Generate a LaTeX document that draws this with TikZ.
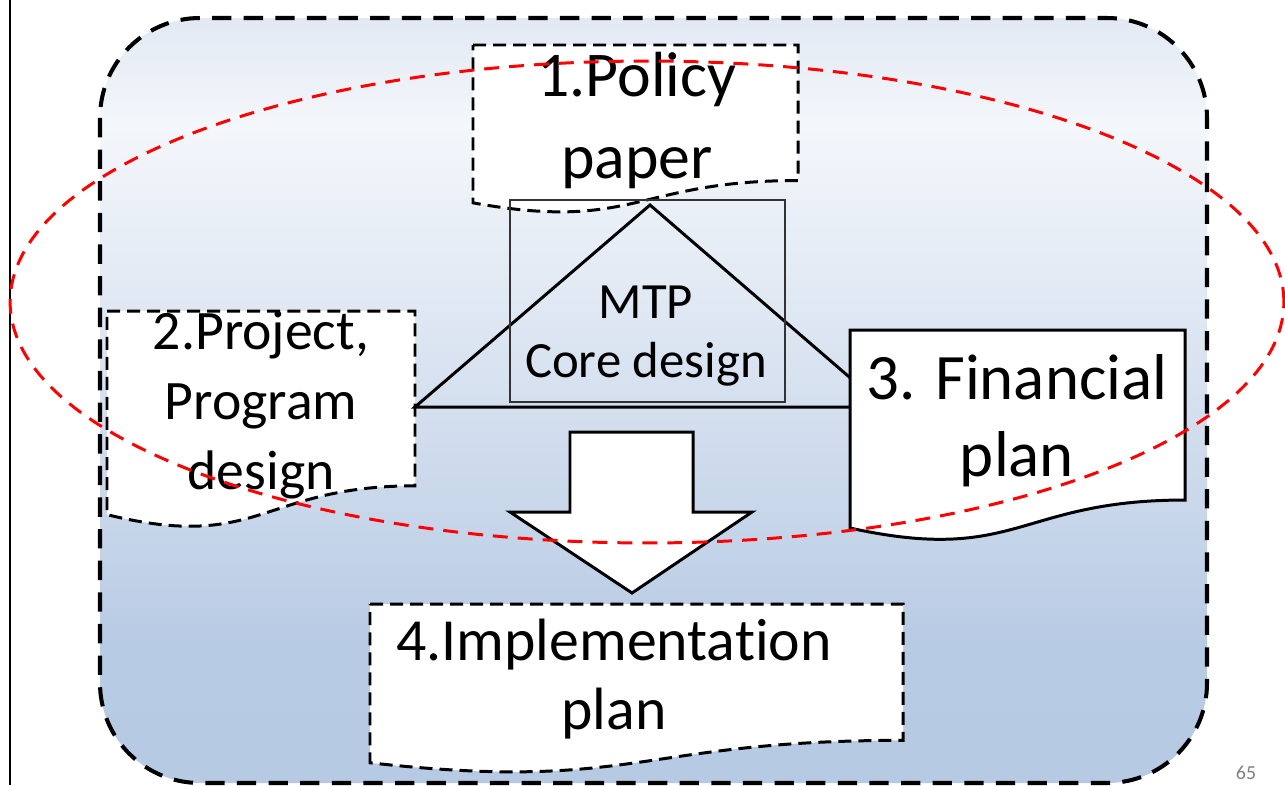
\documentclass[tikz,border=0pt]{standalone}
\usepackage{fontspec}
\setmainfont{Carlito}[Ligatures=NoCommon]
\usepackage{tikz}
\usetikzlibrary{arrows.meta}
\definecolor{slidetop}{HTML}{E2E9F3}
\definecolor{slidelight}{HTML}{F4F7FB}
\definecolor{slidemid}{HTML}{D5E0EF}
\definecolor{slidelow}{HTML}{B8CBE4}
\definecolor{slidebot}{HTML}{B6CAE4}
\pgfdeclareverticalshading{slidefill}{100bp}{color(0bp)=(slidebot); color(25bp)=(slidebot); color(34bp)=(slidelow); color(50bp)=(slidemid); color(68bp)=(slidelight); color(75bp)=(slidetop); color(100bp)=(slidetop)}
\tikzset{
  panel/.style={draw=black, line width=2.3pt, dash pattern=on 11pt off 7pt, rounded corners=2cm, shading=slidefill},
  docdash/.style={draw=black, fill=white, line width=1.7pt, dash pattern=on 7.4pt off 4pt},
  docsolid/.style={draw=black, fill=white, line width=1.7pt},
  doctext/.style={align=center, inner sep=0pt},
  focus/.style={draw=red, line width=1.7pt, dash pattern=on 8.5pt off 5.7pt},
}

\begin{document}
\begin{tikzpicture}[x=0.02cm, y=-0.02cm]

  % document shape: left, top, right, bottom of its box
  \newcommand\docpath[4]{(#1,#2) -- (#3,#2) -- (#3,{#2+0.802*(#4-#2)})
    .. controls ({(#1+#3)/2},{#2+0.802*(#4-#2)}) and ({(#1+#3)/2},{#2+1.1075*(#4-#2)}) .. (#1,{#2+0.934*(#4-#2)}) -- cycle}

  \useasboundingbox (0,0) rectangle (1285,785);
  \draw[line width=0.9pt] (10,0) -- (10,785);
  \path[panel] (100,18) rectangle (1207,783);

  \draw[docdash] \docpath{473}{45}{798}{214};
  \draw[docdash] \docpath{107}{311}{415}{529};

  \coordinate (tri-l) at (415,407);
  \coordinate (apex) at (650,205);
  \coordinate (tri-r) at (884,407);
  \draw[line width=1.7pt] (tri-l) -- (apex) -- (tri-r) -- cycle;
  \draw[black!80, line width=0.6pt] (510,200) rectangle (785,402);
  \node[doctext, font=\fontsize{28.9}{34}\selectfont] (mtp) at (646,336) {MTP\\Core design};

  \draw[docsolid] \docpath{850}{330}{1185}{542};

  \draw[line width=1.7pt, fill=white] (570,432) -- (693,432) -- (693,512) -- (752,512)
    -- (632,593) -- (510,512) -- (570,512) -- cycle;

  \draw[docdash] \docpath{370}{604}{903}{774};

  \node[doctext, font=\fontsize{36.3}{46.5}\selectfont] (policy) at (637,120.5) {1.Policy\\paper};
  \node[doctext, font=\fontsize{31.7}{39.7}\selectfont] (program) at (261,405) {2.Project,\\Program\\design};
  \node[doctext, font=\fontsize{36.9}{43.7}\selectfont] (finance) at (1017,420.5) {3. Financial\\plan};
  \node[doctext, font=\fontsize{34}{39.7}\selectfont] (impl) at (614,679) {4.Implementation\\plan};

  \draw[focus] (647,302) ellipse [x radius=12.74cm, y radius=4.82cm];

  \node[text=gray, anchor=base, font=\fontsize{11.3}{13}\selectfont] (page) at (1246,779) {65};

\end{tikzpicture}
\end{document}
